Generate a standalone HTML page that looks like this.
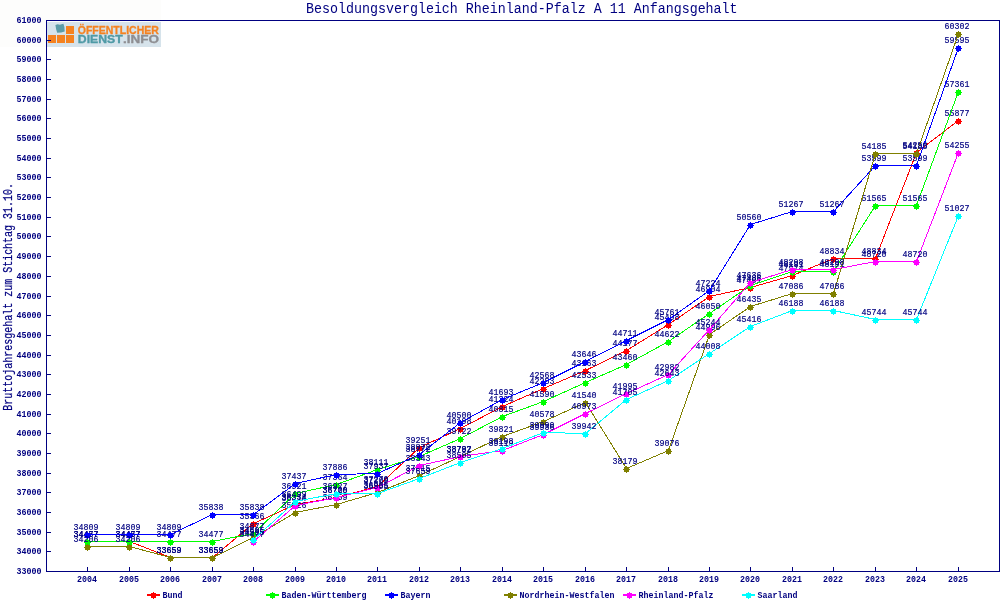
<!DOCTYPE html>
<html lang="de"><head><meta charset="utf-8"><title>Besoldungsvergleich Rheinland-Pfalz A 11 Anfangsgehalt</title>
<style>
html,body{margin:0;padding:0;background:#fff;}
body{width:1000px;height:600px;overflow:hidden;position:relative;}
svg{position:absolute;left:0;top:0;display:block;}
.t{font-family:"Liberation Mono","DejaVu Sans Mono",monospace;font-weight:normal;stroke:#000080;stroke-width:0.16px;font-size:8.33px;fill:#000080;}
.b{font-weight:bold;stroke:none;}
.ttl{font-family:"Liberation Mono","DejaVu Sans Mono",monospace;font-size:13.33px;fill:#000080;}
.yt{font-family:"Liberation Mono","DejaVu Sans Mono",monospace;font-size:10px;fill:#000080;stroke:#000080;stroke-width:0.2px;}
.ln{fill:none;stroke-width:1;shape-rendering:crispEdges;}
.ax{stroke:#000080;stroke-width:1;shape-rendering:crispEdges;fill:none;}
.mk{shape-rendering:crispEdges;}
.logo1{font-family:"Liberation Sans",sans-serif;font-weight:bold;font-size:10.4px;}
</style></head><body>
<svg width="1000" height="600" viewBox="0 0 1000 600">
<defs>
<path id="m" class="mk" d="M0,-3h1v1h2v2h1v1h-1v2h-2v1h-1v-1h-2v-2h-1v-1h1v-2h2z"/>
</defs>

<rect x="0" y="0" width="161" height="47" fill="#fdfdfc"/>
<g id="logo">
<rect x="47" y="22" width="114" height="25" fill="#d6e3eb"/>
<path d="M55.4,25L57.6,24.2L59.8,24.8L63.4,23.8L64.4,27L64.7,31.6L61.2,32.6L57.2,32.7L56.2,29.4Z" fill="#5b9ca8"/>
<rect x="66" y="26" width="8" height="8" fill="#f58220"/>
<rect x="48" y="35" width="8" height="8" fill="#f58220"/>
<rect x="57" y="35" width="8" height="8" fill="#f58220"/>
<rect x="66" y="35" width="8" height="8" fill="#f58220"/>
<text x="77.8" y="33.9" class="logo1" fill="#f58220" stroke="#f58220" stroke-width="0.3" textLength="81" lengthAdjust="spacingAndGlyphs">ÖFFENTLICHER</text>
<text x="77.8" y="43.3" class="logo1" fill="#4f9aa6" stroke="#4f9aa6" stroke-width="0.3" textLength="45" lengthAdjust="spacingAndGlyphs">DIENST</text>
<text x="123" y="43.3" class="logo1" fill="#8e8e92" stroke="#8e8e92" stroke-width="0.3" textLength="36" lengthAdjust="spacingAndGlyphs">.INFO</text>
</g>
<text transform="translate(306,12.5) scale(1,1.14)" class="ttl">Besoldungsvergleich Rheinland-Pfalz A 11 Anfangsgehalt</text>
<text transform="translate(12.1,410.7) rotate(-90) scale(1,1.2)" class="yt">Bruttojahresgehalt zum Stichtag 31.10.</text>
<polyline class="ln" stroke="#ff0000" points="87.5,541.5 129.5,541.5 170.5,557.5 212.5,557.5 253.5,523.5 295.5,504.5 336.5,497.5 377.5,486.5 419.5,447.5 460.5,428.5 502.5,406.5 543.5,388.5 585.5,370.5 626.5,350.5 668.5,324.5 709.5,296.5 750.5,287.5 792.5,275.5 833.5,258.5 875.5,258.5 916.5,152.5 958.5,120.5"/>
<text transform="translate(73.50,537.00) scale(1,1.09)" class="t">34457</text>
<text transform="translate(115.50,537.00) scale(1,1.09)" class="t">34457</text>
<text transform="translate(156.50,553.00) scale(1,1.09)" class="t">33659</text>
<text transform="translate(198.50,553.00) scale(1,1.09)" class="t">33659</text>
<text transform="translate(239.50,519.00) scale(1,1.09)" class="t">35366</text>
<text transform="translate(281.50,500.00) scale(1,1.09)" class="t">36334</text>
<text transform="translate(322.50,493.00) scale(1,1.09)" class="t">36720</text>
<text transform="translate(363.50,482.00) scale(1,1.09)" class="t">37270</text>
<text transform="translate(405.50,443.00) scale(1,1.09)" class="t">39251</text>
<text transform="translate(446.50,424.00) scale(1,1.09)" class="t">40198</text>
<text transform="translate(488.50,402.00) scale(1,1.09)" class="t">41324</text>
<text transform="translate(529.50,384.00) scale(1,1.09)" class="t">42253</text>
<text transform="translate(571.50,366.00) scale(1,1.09)" class="t">43163</text>
<text transform="translate(612.50,346.00) scale(1,1.09)" class="t">44177</text>
<text transform="translate(654.50,320.00) scale(1,1.09)" class="t">45498</text>
<text transform="translate(695.50,292.00) scale(1,1.09)" class="t">46904</text>
<text transform="translate(736.50,283.00) scale(1,1.09)" class="t">47401</text>
<text transform="translate(778.50,271.00) scale(1,1.09)" class="t">47974</text>
<text transform="translate(819.50,254.00) scale(1,1.09)" class="t">48834</text>
<text transform="translate(861.50,254.00) scale(1,1.09)" class="t">48834</text>
<text transform="translate(902.50,148.00) scale(1,1.09)" class="t">54250</text>
<text transform="translate(944.50,116.00) scale(1,1.09)" class="t">55877</text>
<use href="#m" x="87" y="542" fill="#ff0000"/>
<use href="#m" x="129" y="542" fill="#ff0000"/>
<use href="#m" x="170" y="558" fill="#ff0000"/>
<use href="#m" x="212" y="558" fill="#ff0000"/>
<use href="#m" x="253" y="524" fill="#ff0000"/>
<use href="#m" x="295" y="505" fill="#ff0000"/>
<use href="#m" x="336" y="498" fill="#ff0000"/>
<use href="#m" x="377" y="487" fill="#ff0000"/>
<use href="#m" x="419" y="448" fill="#ff0000"/>
<use href="#m" x="460" y="429" fill="#ff0000"/>
<use href="#m" x="502" y="407" fill="#ff0000"/>
<use href="#m" x="543" y="389" fill="#ff0000"/>
<use href="#m" x="585" y="371" fill="#ff0000"/>
<use href="#m" x="626" y="351" fill="#ff0000"/>
<use href="#m" x="668" y="325" fill="#ff0000"/>
<use href="#m" x="709" y="297" fill="#ff0000"/>
<use href="#m" x="750" y="288" fill="#ff0000"/>
<use href="#m" x="792" y="276" fill="#ff0000"/>
<use href="#m" x="833" y="259" fill="#ff0000"/>
<use href="#m" x="875" y="259" fill="#ff0000"/>
<use href="#m" x="916" y="153" fill="#ff0000"/>
<use href="#m" x="958" y="121" fill="#ff0000"/>
<polyline class="ln" stroke="#00ff00" points="87.5,541.5 129.5,541.5 170.5,541.5 212.5,541.5 253.5,533.5 295.5,493.5 336.5,484.5 377.5,469.5 419.5,456.5 460.5,438.5 502.5,416.5 543.5,401.5 585.5,382.5 626.5,364.5 668.5,341.5 709.5,313.5 750.5,285.5 792.5,271.5 833.5,271.5 875.5,205.5 916.5,205.5 958.5,91.5"/>
<text transform="translate(73.50,537.00) scale(1,1.09)" class="t">34477</text>
<text transform="translate(115.50,537.00) scale(1,1.09)" class="t">34477</text>
<text transform="translate(156.50,537.00) scale(1,1.09)" class="t">34477</text>
<text transform="translate(198.50,537.00) scale(1,1.09)" class="t">34477</text>
<text transform="translate(239.50,529.00) scale(1,1.09)" class="t">34877</text>
<text transform="translate(281.50,489.00) scale(1,1.09)" class="t">36921</text>
<text transform="translate(322.50,480.00) scale(1,1.09)" class="t">37364</text>
<text transform="translate(363.50,465.00) scale(1,1.09)" class="t">38111</text>
<text transform="translate(405.50,452.00) scale(1,1.09)" class="t">38772</text>
<text transform="translate(446.50,434.00) scale(1,1.09)" class="t">39722</text>
<text transform="translate(488.50,412.00) scale(1,1.09)" class="t">40815</text>
<text transform="translate(529.50,397.00) scale(1,1.09)" class="t">41590</text>
<text transform="translate(571.50,378.00) scale(1,1.09)" class="t">42533</text>
<text transform="translate(612.50,360.00) scale(1,1.09)" class="t">43460</text>
<text transform="translate(654.50,337.00) scale(1,1.09)" class="t">44622</text>
<text transform="translate(695.50,309.00) scale(1,1.09)" class="t">46050</text>
<text transform="translate(736.50,281.00) scale(1,1.09)" class="t">47486</text>
<text transform="translate(778.50,267.00) scale(1,1.09)" class="t">48191</text>
<text transform="translate(819.50,267.00) scale(1,1.09)" class="t">48191</text>
<text transform="translate(861.50,201.00) scale(1,1.09)" class="t">51565</text>
<text transform="translate(902.50,201.00) scale(1,1.09)" class="t">51565</text>
<text transform="translate(944.50,87.00) scale(1,1.09)" class="t">57361</text>
<use href="#m" x="87" y="542" fill="#00ff00"/>
<use href="#m" x="129" y="542" fill="#00ff00"/>
<use href="#m" x="170" y="542" fill="#00ff00"/>
<use href="#m" x="212" y="542" fill="#00ff00"/>
<use href="#m" x="253" y="534" fill="#00ff00"/>
<use href="#m" x="295" y="494" fill="#00ff00"/>
<use href="#m" x="336" y="485" fill="#00ff00"/>
<use href="#m" x="377" y="470" fill="#00ff00"/>
<use href="#m" x="419" y="457" fill="#00ff00"/>
<use href="#m" x="460" y="439" fill="#00ff00"/>
<use href="#m" x="502" y="417" fill="#00ff00"/>
<use href="#m" x="543" y="402" fill="#00ff00"/>
<use href="#m" x="585" y="383" fill="#00ff00"/>
<use href="#m" x="626" y="365" fill="#00ff00"/>
<use href="#m" x="668" y="342" fill="#00ff00"/>
<use href="#m" x="709" y="314" fill="#00ff00"/>
<use href="#m" x="750" y="286" fill="#00ff00"/>
<use href="#m" x="792" y="272" fill="#00ff00"/>
<use href="#m" x="833" y="272" fill="#00ff00"/>
<use href="#m" x="875" y="206" fill="#00ff00"/>
<use href="#m" x="916" y="206" fill="#00ff00"/>
<use href="#m" x="958" y="92" fill="#00ff00"/>
<polyline class="ln" stroke="#0000ff" points="87.5,534.5 129.5,534.5 170.5,534.5 212.5,514.5 253.5,514.5 295.5,483.5 336.5,474.5 377.5,473.5 419.5,454.5 460.5,422.5 502.5,399.5 543.5,382.5 585.5,361.5 626.5,340.5 668.5,319.5 709.5,290.5 750.5,224.5 792.5,211.5 833.5,211.5 875.5,165.5 916.5,165.5 958.5,47.5"/>
<text transform="translate(73.50,530.00) scale(1,1.09)" class="t">34809</text>
<text transform="translate(115.50,530.00) scale(1,1.09)" class="t">34809</text>
<text transform="translate(156.50,530.00) scale(1,1.09)" class="t">34809</text>
<text transform="translate(198.50,510.00) scale(1,1.09)" class="t">35838</text>
<text transform="translate(239.50,510.00) scale(1,1.09)" class="t">35838</text>
<text transform="translate(281.50,479.00) scale(1,1.09)" class="t">37437</text>
<text transform="translate(322.50,470.00) scale(1,1.09)" class="t">37886</text>
<text transform="translate(363.50,469.00) scale(1,1.09)" class="t">37937</text>
<text transform="translate(405.50,450.00) scale(1,1.09)" class="t">38872</text>
<text transform="translate(446.50,418.00) scale(1,1.09)" class="t">40500</text>
<text transform="translate(488.50,395.00) scale(1,1.09)" class="t">41693</text>
<text transform="translate(529.50,378.00) scale(1,1.09)" class="t">42568</text>
<text transform="translate(571.50,357.00) scale(1,1.09)" class="t">43646</text>
<text transform="translate(612.50,336.00) scale(1,1.09)" class="t">44711</text>
<text transform="translate(654.50,315.00) scale(1,1.09)" class="t">45761</text>
<text transform="translate(695.50,286.00) scale(1,1.09)" class="t">47224</text>
<text transform="translate(736.50,220.00) scale(1,1.09)" class="t">50560</text>
<text transform="translate(778.50,207.00) scale(1,1.09)" class="t">51267</text>
<text transform="translate(819.50,207.00) scale(1,1.09)" class="t">51267</text>
<text transform="translate(861.50,161.00) scale(1,1.09)" class="t">53599</text>
<text transform="translate(902.50,161.00) scale(1,1.09)" class="t">53599</text>
<text transform="translate(944.50,43.00) scale(1,1.09)" class="t">59595</text>
<use href="#m" x="87" y="535" fill="#0000ff"/>
<use href="#m" x="129" y="535" fill="#0000ff"/>
<use href="#m" x="170" y="535" fill="#0000ff"/>
<use href="#m" x="212" y="515" fill="#0000ff"/>
<use href="#m" x="253" y="515" fill="#0000ff"/>
<use href="#m" x="295" y="484" fill="#0000ff"/>
<use href="#m" x="336" y="475" fill="#0000ff"/>
<use href="#m" x="377" y="474" fill="#0000ff"/>
<use href="#m" x="419" y="455" fill="#0000ff"/>
<use href="#m" x="460" y="423" fill="#0000ff"/>
<use href="#m" x="502" y="400" fill="#0000ff"/>
<use href="#m" x="543" y="383" fill="#0000ff"/>
<use href="#m" x="585" y="362" fill="#0000ff"/>
<use href="#m" x="626" y="341" fill="#0000ff"/>
<use href="#m" x="668" y="320" fill="#0000ff"/>
<use href="#m" x="709" y="291" fill="#0000ff"/>
<use href="#m" x="750" y="225" fill="#0000ff"/>
<use href="#m" x="792" y="212" fill="#0000ff"/>
<use href="#m" x="833" y="212" fill="#0000ff"/>
<use href="#m" x="875" y="166" fill="#0000ff"/>
<use href="#m" x="916" y="166" fill="#0000ff"/>
<use href="#m" x="958" y="48" fill="#0000ff"/>
<polyline class="ln" stroke="#808000" points="87.5,546.5 129.5,546.5 170.5,557.5 212.5,557.5 253.5,537.5 295.5,512.5 336.5,504.5 377.5,492.5 419.5,475.5 460.5,456.5 502.5,436.5 543.5,421.5 585.5,402.5 626.5,468.5 668.5,450.5 709.5,334.5 750.5,306.5 792.5,293.5 833.5,293.5 875.5,153.5 916.5,153.5 958.5,33.5"/>
<text transform="translate(73.50,542.00) scale(1,1.09)" class="t">34206</text>
<text transform="translate(115.50,542.00) scale(1,1.09)" class="t">34206</text>
<text transform="translate(156.50,553.00) scale(1,1.09)" class="t">33659</text>
<text transform="translate(198.50,553.00) scale(1,1.09)" class="t">33659</text>
<text transform="translate(239.50,533.00) scale(1,1.09)" class="t">34695</text>
<text transform="translate(281.50,508.00) scale(1,1.09)" class="t">35926</text>
<text transform="translate(322.50,500.00) scale(1,1.09)" class="t">36359</text>
<text transform="translate(363.50,488.00) scale(1,1.09)" class="t">36985</text>
<text transform="translate(405.50,471.00) scale(1,1.09)" class="t">37815</text>
<text transform="translate(446.50,452.00) scale(1,1.09)" class="t">38792</text>
<text transform="translate(488.50,432.00) scale(1,1.09)" class="t">39821</text>
<text transform="translate(529.50,417.00) scale(1,1.09)" class="t">40578</text>
<text transform="translate(571.50,398.00) scale(1,1.09)" class="t">41540</text>
<text transform="translate(612.50,464.00) scale(1,1.09)" class="t">38179</text>
<text transform="translate(654.50,446.00) scale(1,1.09)" class="t">39076</text>
<text transform="translate(695.50,330.00) scale(1,1.09)" class="t">44996</text>
<text transform="translate(736.50,302.00) scale(1,1.09)" class="t">46435</text>
<text transform="translate(778.50,289.00) scale(1,1.09)" class="t">47086</text>
<text transform="translate(819.50,289.00) scale(1,1.09)" class="t">47086</text>
<text transform="translate(861.50,149.00) scale(1,1.09)" class="t">54185</text>
<text transform="translate(902.50,149.00) scale(1,1.09)" class="t">54185</text>
<text transform="translate(944.50,29.00) scale(1,1.09)" class="t">60302</text>
<use href="#m" x="87" y="547" fill="#808000"/>
<use href="#m" x="129" y="547" fill="#808000"/>
<use href="#m" x="170" y="558" fill="#808000"/>
<use href="#m" x="212" y="558" fill="#808000"/>
<use href="#m" x="253" y="538" fill="#808000"/>
<use href="#m" x="295" y="513" fill="#808000"/>
<use href="#m" x="336" y="505" fill="#808000"/>
<use href="#m" x="377" y="493" fill="#808000"/>
<use href="#m" x="419" y="476" fill="#808000"/>
<use href="#m" x="460" y="457" fill="#808000"/>
<use href="#m" x="502" y="437" fill="#808000"/>
<use href="#m" x="543" y="422" fill="#808000"/>
<use href="#m" x="585" y="403" fill="#808000"/>
<use href="#m" x="626" y="469" fill="#808000"/>
<use href="#m" x="668" y="451" fill="#808000"/>
<use href="#m" x="709" y="335" fill="#808000"/>
<use href="#m" x="750" y="307" fill="#808000"/>
<use href="#m" x="792" y="294" fill="#808000"/>
<use href="#m" x="833" y="294" fill="#808000"/>
<use href="#m" x="875" y="154" fill="#808000"/>
<use href="#m" x="916" y="154" fill="#808000"/>
<use href="#m" x="958" y="34" fill="#808000"/>
<polyline class="ln" stroke="#ff00ff" points="253.5,541.5 295.5,505.5 336.5,497.5 377.5,487.5 419.5,465.5 460.5,456.5 502.5,450.5 543.5,434.5 585.5,413.5 626.5,393.5 668.5,374.5 709.5,329.5 750.5,282.5 792.5,269.5 833.5,269.5 875.5,261.5 916.5,261.5 958.5,152.5"/>
<text transform="translate(239.50,537.00) scale(1,1.09)" class="t">34477</text>
<text transform="translate(281.50,501.00) scale(1,1.09)" class="t">36314</text>
<text transform="translate(322.50,493.00) scale(1,1.09)" class="t">36700</text>
<text transform="translate(363.50,483.00) scale(1,1.09)" class="t">37209</text>
<text transform="translate(405.50,461.00) scale(1,1.09)" class="t">38343</text>
<text transform="translate(446.50,452.00) scale(1,1.09)" class="t">38787</text>
<text transform="translate(488.50,446.00) scale(1,1.09)" class="t">39119</text>
<text transform="translate(529.50,430.00) scale(1,1.09)" class="t">39936</text>
<text transform="translate(571.50,409.00) scale(1,1.09)" class="t">40973</text>
<text transform="translate(612.50,389.00) scale(1,1.09)" class="t">41995</text>
<text transform="translate(654.50,370.00) scale(1,1.09)" class="t">42982</text>
<text transform="translate(695.50,325.00) scale(1,1.09)" class="t">45244</text>
<text transform="translate(736.50,278.00) scale(1,1.09)" class="t">47636</text>
<text transform="translate(778.50,265.00) scale(1,1.09)" class="t">48298</text>
<text transform="translate(819.50,265.00) scale(1,1.09)" class="t">48298</text>
<text transform="translate(861.50,257.00) scale(1,1.09)" class="t">48720</text>
<text transform="translate(902.50,257.00) scale(1,1.09)" class="t">48720</text>
<text transform="translate(944.50,148.00) scale(1,1.09)" class="t">54255</text>
<use href="#m" x="253" y="542" fill="#ff00ff"/>
<use href="#m" x="295" y="506" fill="#ff00ff"/>
<use href="#m" x="336" y="498" fill="#ff00ff"/>
<use href="#m" x="377" y="488" fill="#ff00ff"/>
<use href="#m" x="419" y="466" fill="#ff00ff"/>
<use href="#m" x="460" y="457" fill="#ff00ff"/>
<use href="#m" x="502" y="451" fill="#ff00ff"/>
<use href="#m" x="543" y="435" fill="#ff00ff"/>
<use href="#m" x="585" y="414" fill="#ff00ff"/>
<use href="#m" x="626" y="394" fill="#ff00ff"/>
<use href="#m" x="668" y="375" fill="#ff00ff"/>
<use href="#m" x="709" y="330" fill="#ff00ff"/>
<use href="#m" x="750" y="283" fill="#ff00ff"/>
<use href="#m" x="792" y="270" fill="#ff00ff"/>
<use href="#m" x="833" y="270" fill="#ff00ff"/>
<use href="#m" x="875" y="262" fill="#ff00ff"/>
<use href="#m" x="916" y="262" fill="#ff00ff"/>
<use href="#m" x="958" y="153" fill="#ff00ff"/>
<polyline class="ln" stroke="#00ffff" points="253.5,539.5 295.5,501.5 336.5,493.5 377.5,493.5 419.5,478.5 460.5,462.5 502.5,448.5 543.5,432.5 585.5,433.5 626.5,399.5 668.5,380.5 709.5,353.5 750.5,326.5 792.5,310.5 833.5,310.5 875.5,319.5 916.5,319.5 958.5,215.5"/>
<text transform="translate(239.50,535.00) scale(1,1.09)" class="t">34595</text>
<text transform="translate(281.50,497.00) scale(1,1.09)" class="t">36499</text>
<text transform="translate(322.50,489.00) scale(1,1.09)" class="t">36927</text>
<text transform="translate(363.50,489.00) scale(1,1.09)" class="t">36905</text>
<text transform="translate(405.50,474.00) scale(1,1.09)" class="t">37659</text>
<text transform="translate(446.50,458.00) scale(1,1.09)" class="t">38505</text>
<text transform="translate(488.50,444.00) scale(1,1.09)" class="t">39198</text>
<text transform="translate(529.50,428.00) scale(1,1.09)" class="t">39990</text>
<text transform="translate(571.50,429.00) scale(1,1.09)" class="t">39942</text>
<text transform="translate(612.50,395.00) scale(1,1.09)" class="t">41705</text>
<text transform="translate(654.50,376.00) scale(1,1.09)" class="t">42643</text>
<text transform="translate(695.50,349.00) scale(1,1.09)" class="t">44008</text>
<text transform="translate(736.50,322.00) scale(1,1.09)" class="t">45416</text>
<text transform="translate(778.50,306.00) scale(1,1.09)" class="t">46188</text>
<text transform="translate(819.50,306.00) scale(1,1.09)" class="t">46188</text>
<text transform="translate(861.50,315.00) scale(1,1.09)" class="t">45744</text>
<text transform="translate(902.50,315.00) scale(1,1.09)" class="t">45744</text>
<text transform="translate(944.50,211.00) scale(1,1.09)" class="t">51027</text>
<use href="#m" x="253" y="540" fill="#00ffff"/>
<use href="#m" x="295" y="502" fill="#00ffff"/>
<use href="#m" x="336" y="494" fill="#00ffff"/>
<use href="#m" x="377" y="494" fill="#00ffff"/>
<use href="#m" x="419" y="479" fill="#00ffff"/>
<use href="#m" x="460" y="463" fill="#00ffff"/>
<use href="#m" x="502" y="449" fill="#00ffff"/>
<use href="#m" x="543" y="433" fill="#00ffff"/>
<use href="#m" x="585" y="434" fill="#00ffff"/>
<use href="#m" x="626" y="400" fill="#00ffff"/>
<use href="#m" x="668" y="381" fill="#00ffff"/>
<use href="#m" x="709" y="354" fill="#00ffff"/>
<use href="#m" x="750" y="327" fill="#00ffff"/>
<use href="#m" x="792" y="311" fill="#00ffff"/>
<use href="#m" x="833" y="311" fill="#00ffff"/>
<use href="#m" x="875" y="320" fill="#00ffff"/>
<use href="#m" x="916" y="320" fill="#00ffff"/>
<use href="#m" x="958" y="216" fill="#00ffff"/>
<path class="ax" d="M46.5,20.5H999.5V571.5H46.5Z"/>
<path class="ax" d="M47,571.5H51"/>
<text transform="translate(16.50,574.00) scale(1,1.09)" class="t b">33000</text>
<path class="ax" d="M47,551.5H51"/>
<text transform="translate(16.50,554.00) scale(1,1.09)" class="t b">34000</text>
<path class="ax" d="M47,532.5H51"/>
<text transform="translate(16.50,535.00) scale(1,1.09)" class="t b">35000</text>
<path class="ax" d="M47,512.5H51"/>
<text transform="translate(16.50,515.00) scale(1,1.09)" class="t b">36000</text>
<path class="ax" d="M47,492.5H51"/>
<text transform="translate(16.50,495.00) scale(1,1.09)" class="t b">37000</text>
<path class="ax" d="M47,473.5H51"/>
<text transform="translate(16.50,476.00) scale(1,1.09)" class="t b">38000</text>
<path class="ax" d="M47,453.5H51"/>
<text transform="translate(16.50,456.00) scale(1,1.09)" class="t b">39000</text>
<path class="ax" d="M47,433.5H51"/>
<text transform="translate(16.50,436.00) scale(1,1.09)" class="t b">40000</text>
<path class="ax" d="M47,414.5H51"/>
<text transform="translate(16.50,417.00) scale(1,1.09)" class="t b">41000</text>
<path class="ax" d="M47,394.5H51"/>
<text transform="translate(16.50,397.00) scale(1,1.09)" class="t b">42000</text>
<path class="ax" d="M47,374.5H51"/>
<text transform="translate(16.50,377.00) scale(1,1.09)" class="t b">43000</text>
<path class="ax" d="M47,355.5H51"/>
<text transform="translate(16.50,358.00) scale(1,1.09)" class="t b">44000</text>
<path class="ax" d="M47,335.5H51"/>
<text transform="translate(16.50,338.00) scale(1,1.09)" class="t b">45000</text>
<path class="ax" d="M47,315.5H51"/>
<text transform="translate(16.50,318.00) scale(1,1.09)" class="t b">46000</text>
<path class="ax" d="M47,296.5H51"/>
<text transform="translate(16.50,299.00) scale(1,1.09)" class="t b">47000</text>
<path class="ax" d="M47,276.5H51"/>
<text transform="translate(16.50,279.00) scale(1,1.09)" class="t b">48000</text>
<path class="ax" d="M47,256.5H51"/>
<text transform="translate(16.50,259.00) scale(1,1.09)" class="t b">49000</text>
<path class="ax" d="M47,236.5H51"/>
<text transform="translate(16.50,239.00) scale(1,1.09)" class="t b">50000</text>
<path class="ax" d="M47,217.5H51"/>
<text transform="translate(16.50,220.00) scale(1,1.09)" class="t b">51000</text>
<path class="ax" d="M47,197.5H51"/>
<text transform="translate(16.50,200.00) scale(1,1.09)" class="t b">52000</text>
<path class="ax" d="M47,177.5H51"/>
<text transform="translate(16.50,180.00) scale(1,1.09)" class="t b">53000</text>
<path class="ax" d="M47,158.5H51"/>
<text transform="translate(16.50,161.00) scale(1,1.09)" class="t b">54000</text>
<path class="ax" d="M47,138.5H51"/>
<text transform="translate(16.50,141.00) scale(1,1.09)" class="t b">55000</text>
<path class="ax" d="M47,118.5H51"/>
<text transform="translate(16.50,121.00) scale(1,1.09)" class="t b">56000</text>
<path class="ax" d="M47,99.5H51"/>
<text transform="translate(16.50,102.00) scale(1,1.09)" class="t b">57000</text>
<path class="ax" d="M47,79.5H51"/>
<text transform="translate(16.50,82.00) scale(1,1.09)" class="t b">58000</text>
<path class="ax" d="M47,59.5H51"/>
<text transform="translate(16.50,62.00) scale(1,1.09)" class="t b">59000</text>
<path class="ax" d="M47,40.5H51"/>
<text transform="translate(16.50,43.00) scale(1,1.09)" class="t b">60000</text>
<path class="ax" d="M47,20.5H51"/>
<text transform="translate(16.50,23.00) scale(1,1.09)" class="t b">61000</text>
<path class="ax" d="M87.5,567V571"/>
<text transform="translate(77.00,582.00) scale(1,1.09)" class="t b">2004</text>
<path class="ax" d="M129.5,567V571"/>
<text transform="translate(119.00,582.00) scale(1,1.09)" class="t b">2005</text>
<path class="ax" d="M170.5,567V571"/>
<text transform="translate(160.00,582.00) scale(1,1.09)" class="t b">2006</text>
<path class="ax" d="M212.5,567V571"/>
<text transform="translate(202.00,582.00) scale(1,1.09)" class="t b">2007</text>
<path class="ax" d="M253.5,567V571"/>
<text transform="translate(243.00,582.00) scale(1,1.09)" class="t b">2008</text>
<path class="ax" d="M295.5,567V571"/>
<text transform="translate(285.00,582.00) scale(1,1.09)" class="t b">2009</text>
<path class="ax" d="M336.5,567V571"/>
<text transform="translate(326.00,582.00) scale(1,1.09)" class="t b">2010</text>
<path class="ax" d="M377.5,567V571"/>
<text transform="translate(367.00,582.00) scale(1,1.09)" class="t b">2011</text>
<path class="ax" d="M419.5,567V571"/>
<text transform="translate(409.00,582.00) scale(1,1.09)" class="t b">2012</text>
<path class="ax" d="M460.5,567V571"/>
<text transform="translate(450.00,582.00) scale(1,1.09)" class="t b">2013</text>
<path class="ax" d="M502.5,567V571"/>
<text transform="translate(492.00,582.00) scale(1,1.09)" class="t b">2014</text>
<path class="ax" d="M543.5,567V571"/>
<text transform="translate(533.00,582.00) scale(1,1.09)" class="t b">2015</text>
<path class="ax" d="M585.5,567V571"/>
<text transform="translate(575.00,582.00) scale(1,1.09)" class="t b">2016</text>
<path class="ax" d="M626.5,567V571"/>
<text transform="translate(616.00,582.00) scale(1,1.09)" class="t b">2017</text>
<path class="ax" d="M668.5,567V571"/>
<text transform="translate(658.00,582.00) scale(1,1.09)" class="t b">2018</text>
<path class="ax" d="M709.5,567V571"/>
<text transform="translate(699.00,582.00) scale(1,1.09)" class="t b">2019</text>
<path class="ax" d="M750.5,567V571"/>
<text transform="translate(740.00,582.00) scale(1,1.09)" class="t b">2020</text>
<path class="ax" d="M792.5,567V571"/>
<text transform="translate(782.00,582.00) scale(1,1.09)" class="t b">2021</text>
<path class="ax" d="M833.5,567V571"/>
<text transform="translate(823.00,582.00) scale(1,1.09)" class="t b">2022</text>
<path class="ax" d="M875.5,567V571"/>
<text transform="translate(865.00,582.00) scale(1,1.09)" class="t b">2023</text>
<path class="ax" d="M916.5,567V571"/>
<text transform="translate(906.00,582.00) scale(1,1.09)" class="t b">2024</text>
<path class="ax" d="M958.5,567V571"/>
<text transform="translate(948.00,582.00) scale(1,1.09)" class="t b">2025</text>
<rect class="mk" fill="#ff0000" x="147" y="594" width="13" height="2"/>
<use href="#m" x="153" y="595" fill="#ff0000"/>
<text transform="translate(162.50,598.00) scale(1,1.09)" class="t b">Bund</text>
<rect class="mk" fill="#00ff00" x="266" y="594" width="13" height="2"/>
<use href="#m" x="272" y="595" fill="#00ff00"/>
<text transform="translate(281.50,598.00) scale(1,1.09)" class="t b">Baden-Württemberg</text>
<rect class="mk" fill="#0000ff" x="385" y="594" width="13" height="2"/>
<use href="#m" x="391" y="595" fill="#0000ff"/>
<text transform="translate(400.50,598.00) scale(1,1.09)" class="t b">Bayern</text>
<rect class="mk" fill="#808000" x="504" y="594" width="13" height="2"/>
<use href="#m" x="510" y="595" fill="#808000"/>
<text transform="translate(519.50,598.00) scale(1,1.09)" class="t b">Nordrhein-Westfalen</text>
<rect class="mk" fill="#ff00ff" x="623" y="594" width="13" height="2"/>
<use href="#m" x="629" y="595" fill="#ff00ff"/>
<text transform="translate(638.50,598.00) scale(1,1.09)" class="t b">Rheinland-Pfalz</text>
<rect class="mk" fill="#00ffff" x="742" y="594" width="13" height="2"/>
<use href="#m" x="748" y="595" fill="#00ffff"/>
<text transform="translate(757.50,598.00) scale(1,1.09)" class="t b">Saarland</text>
</svg></body></html>
